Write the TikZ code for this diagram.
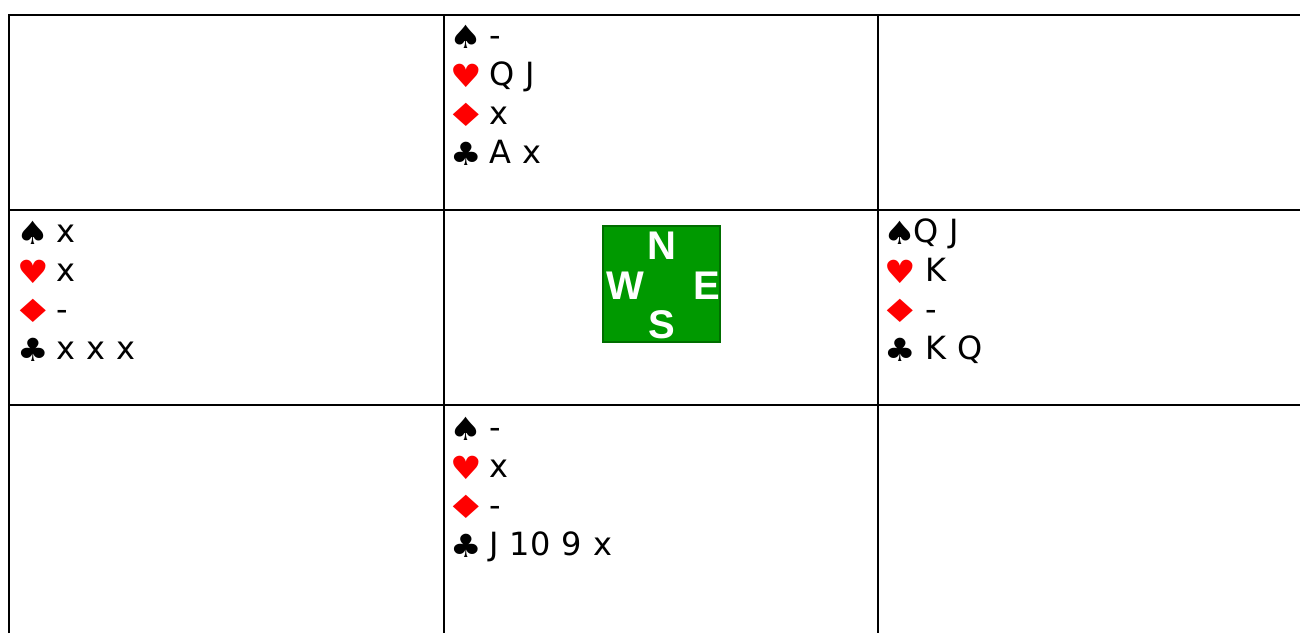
\documentclass[tikz,border=0pt]{standalone}
\usepackage{fontspec}
\usepackage{graphicx}
\setmainfont[WordSpace=1.1]{DejaVu Sans}
\newfontfamily\compassfont{Liberation Sans}
\definecolor{suitred}{RGB}{255,0,0}
\definecolor{boardgreen}{RGB}{0,153,0}
\definecolor{boardedge}{RGB}{0,110,0}
\tikzset{
  gridline/.style={line width=2pt, black},
  suit/.style={anchor=base, inner sep=0pt, font=\fontsize{32}{32}\selectfont},
  card/.style={anchor=base west, inner sep=0pt, font=\fontsize{32}{32}\selectfont},
  compassletter/.style={anchor=base, inner sep=0pt, text=white, font=\compassfont\bfseries\fontsize{40}{40}\selectfont},
}
\newcommand\spadesym{\scalebox{1.15}[1]{♠}}
\newcommand\heartsym{\scalebox{1.1}[1]{♥}}
\newcommand\diamsym{\scalebox{1.45}[1]{♦}}
\newcommand\clubsym{\scalebox{1.1}[1]{♣}}
\newcommand\handblock[8]{% #1 name, #2 symbol x, #3 text x, #4 first baseline, #5-#8 holdings
  \node[suit, text=black] (#1sp) at (#2,-#4-2) {\spadesym};
  \node[card] (#1spt) at (#3,-#4) {#5};
  \node[suit, text=suitred] (#1he) at (#2,-#4-39-2) {\heartsym};
  \node[card] (#1het) at (#3,-#4-39) {#6};
  \node[suit, text=suitred] (#1di) at (#2,-#4-78-2) {\diamsym};
  \node[card] (#1dit) at (#3,-#4-78) {#7};
  \node[suit, text=black] (#1cl) at (#2,-#4-117-2) {\clubsym};
  \node[card] (#1clt) at (#3,-#4-117) {#8};
}
\begin{document}
\begin{tikzpicture}[x=1pt, y=1pt]
\useasboundingbox (0,0) rectangle (1300,-633);
% grid
\draw[gridline] (9,-633) -- (9,-15) -- (1300,-15);
\draw[gridline] (9,-210) -- (1300,-210);
\draw[gridline] (9,-405) -- (1300,-405);
\draw[gridline] (444,-15) -- (444,-633);
\draw[gridline] (878,-15) -- (878,-633);
% North
\handblock{n}{466}{489}{46}{-}{Q J}{x}{A x}
% West
\handblock{w}{33}{56}{242}{x}{x}{-}{x x x}
% East
\node[suit, text=black] (esp) at (900,-244) {\spadesym};
\node[card] (espt) at (913,-242) {Q J};
\node[suit, text=suitred] (ehe) at (900,-283) {\heartsym};
\node[card] (ehet) at (925,-281) {K};
\node[suit, text=suitred] (edi) at (900,-322) {\diamsym};
\node[card] (edit) at (925,-320) {-};
\node[suit, text=black] (ecl) at (900,-361) {\clubsym};
\node[card] (eclt) at (925,-359) {K Q};
% South
\handblock{s}{466}{489}{438}{-}{x}{-}{J 10 9 x}
% compass
\node[draw=boardedge, fill=boardgreen, line width=2pt, minimum width=117pt, minimum height=116pt, inner sep=0pt] (board) at (661.5,-284) {};
\node[compassletter] (cn) at (662,-259) {N};
\node[compassletter] (cw) at (625,-299) {W};
\node[compassletter] (ce) at (707,-299) {E};
\node[compassletter] (cs) at (662,-338) {S};
\end{tikzpicture}
\end{document}
